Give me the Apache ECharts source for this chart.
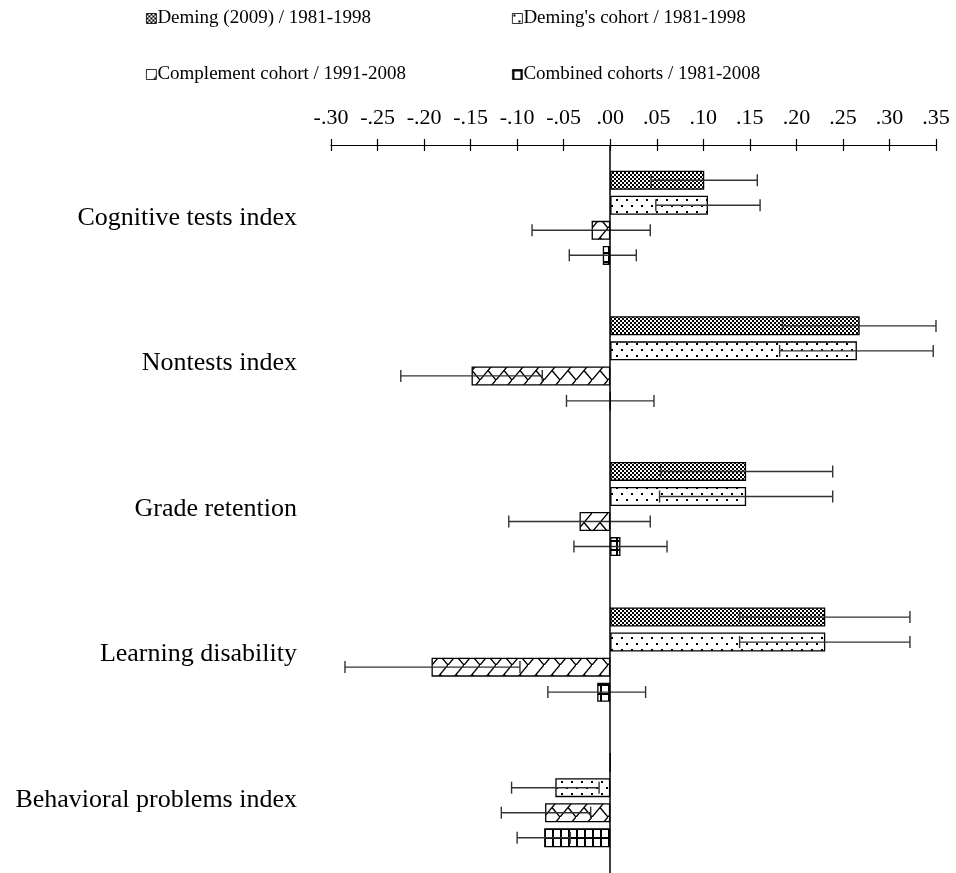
<!DOCTYPE html>
<html>
<head>
<meta charset="utf-8">
<script src="https://cdn.jsdelivr.net/npm/echarts@6/dist/echarts.min.js"></script>
<style>
html,body{margin:0;padding:0;background:#fff;}
#chart{width:956px;height:873px;}
</style>
</head>
<body>
<div id="chart"></div>
<script>
// ---- data ----
const categories = ['Cognitive tests index', 'Nontests index', 'Grade retention', 'Learning disability', 'Behavioral problems index'];
const seriesNames = ['Deming (2009) / 1981-1998', "Deming's cohort / 1981-1998", 'Complement cohort / 1991-2008', 'Combined cohorts / 1981-2008'];

const deming2009 = [0.101, 0.268, 0.146, 0.231, 0.000];
const deming2009Lo = [0.044, 0.185, 0.054, 0.139, null];
const deming2009Hi = [0.158, 0.350, 0.239, 0.322, null];

const demingCohort = [0.105, 0.265, 0.146, 0.231, -0.059];
const demingCohortLo = [0.049, 0.182, 0.053, 0.139, -0.106];
const demingCohortHi = [0.161, 0.347, 0.239, 0.322, -0.012];

const complement = [-0.020, -0.149, -0.033, -0.192, -0.070];
const complementLo = [-0.084, -0.225, -0.109, -0.285, -0.117];
const complementHi = [0.043, -0.073, 0.043, -0.097, -0.021];

const combined = [-0.008, 0.000, 0.011, -0.014, -0.071];
const combinedLo = [-0.044, -0.047, -0.039, -0.067, -0.100];
const combinedHi = [0.028, 0.047, 0.061, 0.038, -0.043];

const tickLabels = ['-.30', '-.25', '-.20', '-.15', '-.10', '-.05', '.00', '.05', '.10', '.15', '.20', '.25', '.30', '.35'];

// ---- patterns ----
function makePattern(w, h, draw) {
  const c = document.createElement('canvas');
  c.width = w; c.height = h;
  const ctx = c.getContext('2d');
  ctx.fillStyle = '#fff';
  ctx.fillRect(0, 0, w, h);
  ctx.fillStyle = '#000';
  ctx.strokeStyle = '#000';
  draw(ctx);
  return { image: c, repeat: 'repeat' };
}
const patChecker = makePattern(4, 4, ctx => {
  ctx.fillRect(0, 0, 2, 2);
  ctx.fillRect(2, 2, 2, 2);
});
const patDots = makePattern(10, 12, ctx => {
  ctx.fillRect(1, 1, 2, 2);
  ctx.fillRect(6, 7, 2, 2);
});
const patZig = makePattern(16, 19, ctx => {
  ctx.lineWidth = 1.4;
  ctx.beginPath();
  ctx.moveTo(0, 19); ctx.lineTo(16, 0);
  ctx.moveTo(8, 9.5); ctx.lineTo(16, 19);
  ctx.moveTo(-8, 9.5); ctx.lineTo(0, 19);
  ctx.stroke();
});
const patGrid = makePattern(8, 9, ctx => {
  ctx.fillRect(0, 0, 2, 9);
  ctx.fillRect(0, 0, 8, 2);
});
const patterns = [patChecker, patDots, patZig, patGrid];

const values = [deming2009, demingCohort, complement, combined];
const los = [deming2009Lo, demingCohortLo, complementLo, combinedLo];
const his = [deming2009Hi, demingCohortHi, complementHi, combinedHi];

const FONT = "'Liberation Serif', 'Times New Roman', serif";
const BAR_W = 19, BAR_STEP = 25;

const chart = echarts.init(document.getElementById('chart'), null, { renderer: 'canvas' });

const series = [];
values.forEach((vals, si) => {
  const s = {
    name: seriesNames[si],
    type: 'bar',
    data: vals,
    barWidth: BAR_W,
    barGap: '32%',
    itemStyle: { color: patterns[si], borderColor: '#000', borderWidth: 1.3 },
    emphasis: { disabled: true },
    z: 2
  };
  if (si === 0) {
    s.markLine = {
      silent: true,
      symbol: 'none',
      label: { show: false },
      lineStyle: { color: '#000', width: 1.5, type: 'solid' },
      data: [{ xAxis: 0 }],
      z: 5
    };
  }
  series.push(s);
});
values.forEach((vals, si) => {
  const data = [];
  vals.forEach((v, i) => {
    if (los[si][i] != null) data.push([i, los[si][i], his[si][i]]);
  });
  const offset = (si - 1.5) * BAR_STEP;
  series.push({
    name: 'err' + si,
    type: 'custom',
    data: data,
    encode: { x: [1, 2], y: 0 },
    z: 4,
    silent: true,
    renderItem: function (params, api) {
      const cat = api.value(0);
      const p1 = api.coord([api.value(1), cat]);
      const p2 = api.coord([api.value(2), cat]);
      const y = p1[1] + offset;
      const ch = 6;
      const st = { stroke: '#333', lineWidth: 1.4 };
      return {
        type: 'group',
        children: [
          { type: 'line', shape: { x1: p1[0], y1: y, x2: p2[0], y2: y }, style: st },
          { type: 'line', shape: { x1: p1[0], y1: y - ch, x2: p1[0], y2: y + ch }, style: st },
          { type: 'line', shape: { x1: p2[0], y1: y - ch, x2: p2[0], y2: y + ch }, style: st }
        ]
      };
    }
  });
});

function legendAt(name, left, top) {
  return {
    data: [name],
    left: left, top: top,
    icon: 'rect',
    itemWidth: 10, itemHeight: 10,
    itemGap: 0,
    selectedMode: false,
    itemStyle: { borderWidth: 0.8, borderColor: '#000' },
    textStyle: { fontFamily: FONT, fontSize: 19, color: '#000', padding: [0, 0, 0, -4] }
  };
}

const option = {
  animation: false,
  backgroundColor: '#fff',
  legend: [
    legendAt(seriesNames[0], 141, 4),
    legendAt(seriesNames[1], 507, 4),
    legendAt(seriesNames[2], 141, 60),
    legendAt(seriesNames[3], 507, 60)
  ],
  grid: { left: 331, right: 20, top: 145, bottom: 0, containLabel: false },
  xAxis: [
    {
      type: 'value', position: 'top', min: -0.30, max: 0.35, interval: 0.05,
      splitLine: { show: false },
      axisLine: { show: true, onZero: false, lineStyle: { color: '#000', width: 1.2 } },
      axisTick: { show: true, inside: false, length: 6, lineStyle: { color: '#000', width: 1.2 } },
      axisLabel: {
        margin: 16, fontFamily: FONT, fontSize: 22, color: '#000',
        formatter: function (v) {
          const idx = Math.round((v + 0.30) / 0.05);
          return tickLabels[idx] != null ? tickLabels[idx] : '';
        }
      }
    },
    {
      type: 'value', position: 'top', min: -0.30, max: 0.35, interval: 0.05,
      splitLine: { show: false },
      axisLine: { show: false, onZero: false },
      axisTick: { show: true, inside: true, length: 6, lineStyle: { color: '#000', width: 1.2 } },
      axisLabel: { show: false }
    }
  ],
  yAxis: {
    type: 'category', data: categories, inverse: true,
    axisLine: { show: false }, axisTick: { show: false },
    axisLabel: { margin: 34, fontFamily: FONT, fontSize: 26, color: '#000' }
  },
  series: series
};
chart.setOption(option);
</script>
</body>
</html>
